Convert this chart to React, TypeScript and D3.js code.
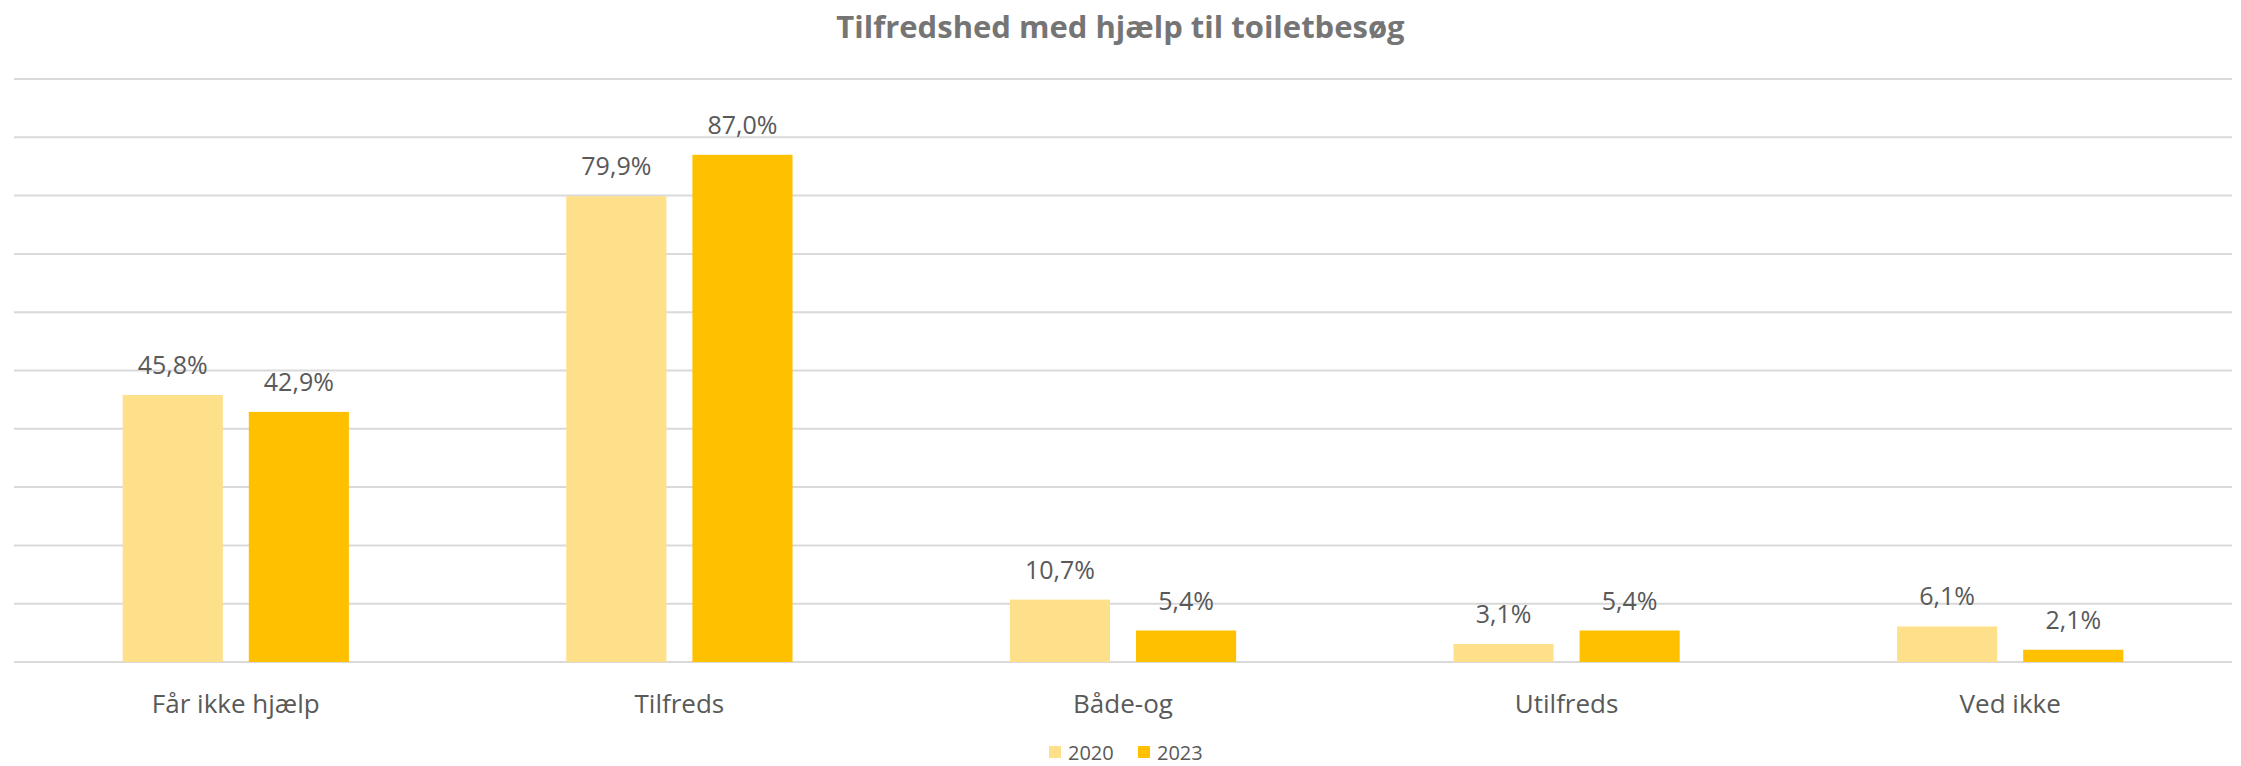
import React from "react";
import * as d3 from "d3";

const categories = ["Får ikke hjælp", "Tilfreds", "Både-og", "Utilfreds", "Ved ikke"];
const series = ["2020", "2023"];
const values2020 = [45.8, 79.9, 10.7, 3.1, 6.1];
const values2023 = [42.9, 87.0, 5.4, 5.4, 2.1];
const yTicks = [0, 10, 20, 30, 40, 50, 60, 70, 80, 90, 100];

const colors: Record<string, string> = { "2020": "#FFE08A", "2023": "#FFC000" };

const W = 2241;
const H = 766;
const FONT = "'Open Sans', 'Noto Sans', sans-serif";

const App = () => {
  const margin = { left: 14, right: 9, top: 79, bottom: 104 };
  const x = d3
    .scaleBand()
    .domain(categories)
    .range([margin.left, W - margin.right])
    .paddingInner(0.49)
    .paddingOuter(0.245);
  const xSub = d3.scaleBand().domain(series).range([0, x.bandwidth()]).paddingInner(0.206);
  const y = d3.scaleLinear().domain([0, 100]).range([H - margin.bottom, margin.top]);

  const rows = categories.map((c, i) => ({
    cat: c,
    vals: [
      { s: "2020", v: values2020[i] },
      { s: "2023", v: values2023[i] },
    ],
  }));

  const fmt = (v: number) => v.toFixed(1).replace(".", ",") + "%";

  return (
    <svg
      width={W}
      height={H}
      style={{ position: "absolute", left: 0, top: 0, background: "#fff" }}
      fontFamily={FONT}
    >
      <text x={W / 2} y={38} textAnchor="middle" fontSize={31} fontWeight="bold" fill="#757575">
        Tilfredshed med hjælp til toiletbesøg
      </text>

      {/* gridlines */}
      {yTicks.map((t) => (
        <line
          key={t}
          x1={margin.left}
          x2={W - margin.right}
          y1={y(t)}
          y2={y(t)}
          stroke="#D9D9D9"
          strokeWidth={2}
        />
      ))}

      {rows.map((r) => (
        <g key={r.cat} transform={`translate(${x(r.cat)},0)`}>
          {r.vals.map((d) => (
            <g key={d.s}>
              <rect
                x={xSub(d.s)}
                y={y(d.v)}
                width={xSub.bandwidth()}
                height={y(0) - y(d.v)}
                fill={colors[d.s]}
              />
              <text
                x={(xSub(d.s) as number) + xSub.bandwidth() / 2}
                y={y(d.v) - 21}
                textAnchor="middle"
                fontSize={25}
                fill="#595959"
              >
                {fmt(d.v)}
              </text>
            </g>
          ))}
          <text x={x.bandwidth() / 2} y={713} textAnchor="middle" fontSize={26} fill="#595959">
            {r.cat}
          </text>
        </g>
      ))}

      {/* legend */}
      {series.map((s, i) => (
        <g key={s} transform={`translate(${1049 + i * 89},0)`}>
          <rect x={0} y={746} width={12} height={12} fill={colors[s]} />
          <text x={19} y={760} fontSize={20} fill="#595959">
            {s}
          </text>
        </g>
      ))}
    </svg>
  );
};

export default App;
